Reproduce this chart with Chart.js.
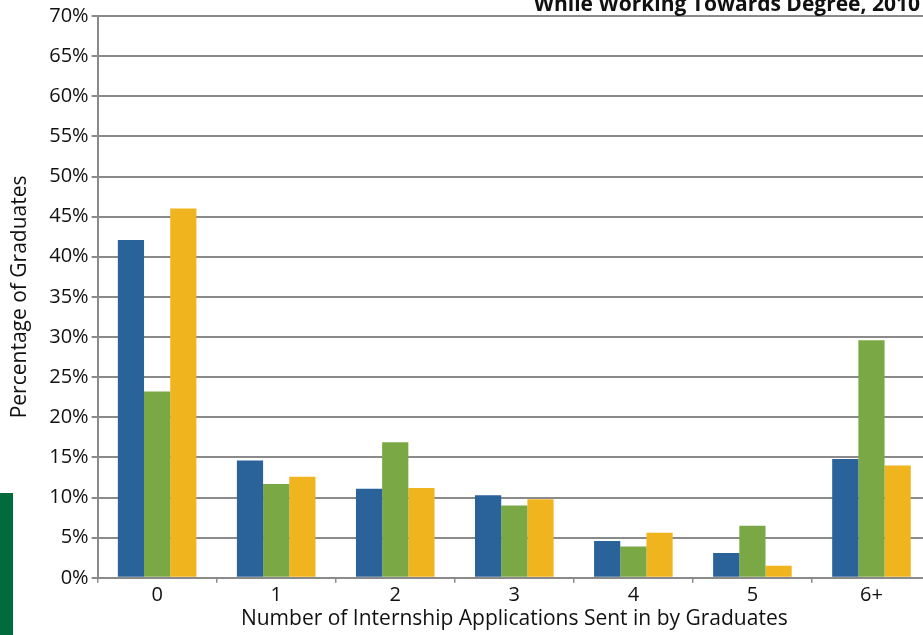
<!DOCTYPE html>
<html lang="en">
<head>
  <meta charset="UTF-8">
  <title>Internship Applications Sent</title>
  <script src="https://cdn.jsdelivr.net/npm/chart.js"></script>
  <style>
    html, body { margin: 0; padding: 0; overflow: hidden; background: #fff; }
    body { width: 923px; height: 635px; position: relative; font-family: "Open Sans", sans-serif; }
    #wrap { position: absolute; left: 0; top: 0; width: 936px; height: 635px; }
    #heading { position: absolute; right: 3px; top: -11px; font: bold 21px "Open Sans", sans-serif; color: #111; white-space: nowrap; }
    #sidebar { position: absolute; left: 0; top: 493px; width: 13px; height: 142px; background: #006B3C; }
  </style>
</head>
<body>
  <div id="wrap"><canvas id="chart" width="936" height="635"></canvas></div>
  <div id="heading">While Working Towards Degree, 2010</div>
  <div id="sidebar"></div>

  <script>
    const categories = ['0', '1', '2', '3', '4', '5', '6+'];
    const seriesBlue = [42.1, 14.6, 11.1, 10.3, 4.6, 3.1, 14.8];
    const seriesGreen = [23.2, 11.7, 16.9, 9.0, 3.9, 6.5, 29.6];
    const seriesYellow = [46.0, 12.6, 11.2, 9.8, 5.6, 1.5, 14.0];
    const colors = ['#2A6399', '#7AA845', '#F0B51E'];

    const ctx = document.getElementById('chart').getContext('2d');
    const chart = new Chart(ctx, {
      type: 'bar',
      data: {
        labels: categories,
        datasets: [
          { data: seriesBlue, backgroundColor: colors[0] },
          { data: seriesGreen, backgroundColor: colors[1] },
          { data: seriesYellow, backgroundColor: colors[2] }
        ]
      },
      options: {
        responsive: false,
        animation: false,
        layout: { padding: { top: 16, right: 5, bottom: 3, left: 7 } },
        datasets: { bar: { categoryPercentage: 0.66, barPercentage: 1.0 } },
        plugins: {
          legend: { display: false },
          tooltip: { enabled: false }
        },
        scales: {
          x: {
            grid: { display: true, drawOnChartArea: false, offset: true, color: '#8a8a8a', lineWidth: 1.5, tickLength: 5 },
            border: { color: '#8a8a8a', width: 2 },
            ticks: { color: '#111', font: { family: 'Open Sans', size: 20 }, padding: 0 },
            title: {
              display: true,
              text: 'Number of Internship Applications Sent in by Graduates',
              color: '#111',
              font: { family: 'Open Sans', size: 21 },
              padding: { top: 0, bottom: 0 }
            }
          },
          y: {
            min: 0,
            max: 70,
            ticks: {
              stepSize: 5,
              color: '#111',
              font: { family: 'Open Sans', size: 20 },
              padding: 3,
              callback: v => v + '%'
            },
            grid: { color: '#8a8a8a', lineWidth: 2, tickLength: 6 },
            border: { color: '#8a8a8a', width: 2 },
            title: {
              display: true,
              text: 'Percentage of Graduates',
              color: '#111',
              font: { family: 'Open Sans', size: 21 },
              padding: { top: 0, bottom: 14 }
            }
          }
        }
      }
    });
  </script>
</body>
</html>
